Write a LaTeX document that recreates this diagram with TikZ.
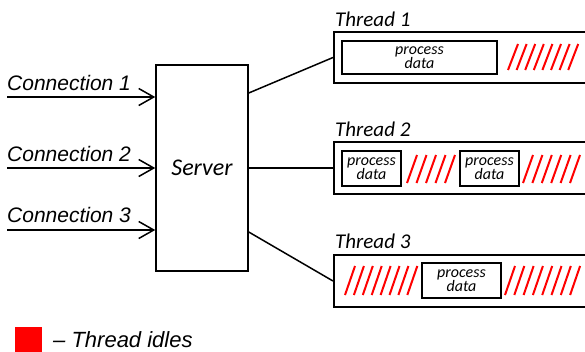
\documentclass[tikz,border=0pt]{standalone}
\usepackage{fontspec}
\setmainfont{Carlito}
\newfontfamily\arialfont{Liberation Sans}
\usetikzlibrary{arrows.meta}
\tikzset{
  boite/.style={draw, line width=1.6pt, inner sep=0pt},
  idle/.style={red, line width=2pt},
  conn/.style={line width=1.5pt, -{Straight Barb[length=15pt,width=17pt,line width=1.5pt]}},
  txtconn/.style={anchor=base west, inner sep=0pt, font=\arialfont\itshape\fontsize{21}{21}\selectfont},
  txtthread/.style={anchor=base west, inner sep=0pt, font=\itshape\fontsize{21}{21}\selectfont},
  tache/.style={boite, align=center, font=\itshape\fontsize{16}{14.5}\selectfont},
}
\begin{document}
\begin{tikzpicture}[x=1pt, y=-1pt]
    \path[use as bounding box, clip] (0,0) rectangle (585,351);
    %serveur
    \node[draw, line width=1.5pt, minimum width=92pt, minimum height=206pt,
      font=\itshape\fontsize{24}{24}\selectfont] (serveur) at (202,168) {Server};
    %connexions
    \node[txtconn] (lc1) at (7,90) {Connection 1};
    \node[txtconn] (lc2) at (7,161) {Connection 2};
    \node[txtconn] (lc3) at (7,222) {Connection 3};
    \coordinate (e1) at (7,97);
    \coordinate (e2) at (7,168);
    \coordinate (e3) at (7,230);
    \draw[conn] (e1) -- (e1 -| serveur.west);
    \draw[conn] (e2) -- (e2 -| serveur.west);
    \draw[conn] (e3) -- (e3 -| serveur.west);
    %threads
    \node[txtthread] (lt1) at (335,26) {Thread 1};
    \node[txtthread] (lt2) at (335,136) {Thread 2};
    \node[txtthread] (lt3) at (335,248) {Thread 3};
    \node[boite, minimum width=270pt, minimum height=51pt, anchor=west] (t1) at (333,57.5) {};
    \node[boite, minimum width=270pt, minimum height=52pt, anchor=west] (t2) at (333,168) {};
    \node[boite, minimum width=270pt, minimum height=52pt, anchor=west] (t3) at (333,281) {};
    \draw[line width=1.5pt] ([yshift=75pt]serveur.east) -- (t1.west);
    \draw[line width=1.5pt] (serveur.east) -- (t2.west);
    \draw[line width=1.5pt] ([yshift=-64pt]serveur.east) -- (t3.west);
    %taches
    \node[tache, minimum width=155pt, minimum height=33pt] (p1) at (419.5,57.5) {process\\data};
    \node[tache, minimum width=59pt, minimum height=35pt] (p2a) at (371.5,168.5) {process\\data};
    \node[tache, minimum width=59pt, minimum height=35pt] (p2b) at (489.5,168.5) {process\\data};
    \node[tache, minimum width=79pt, minimum height=35pt] (p3) at (461.5,280.5) {process\\data};
    %attente
    \foreach \i in {0,...,7}
      \draw[idle] (508+8.6*\i,70) -- ++(10,-26);
    \foreach \i in {0,...,4}
      \draw[idle] (407+9.5*\i,183) -- ++(10,-28);
    \foreach \i in {0,...,5}
      \draw[idle] (523+9.4*\i,183) -- ++(10,-28);
    \foreach \i in {0,...,7}
      \draw[idle] (345+8.9*\i,295) -- ++(10,-29);
    \foreach \i in {0,...,7}
      \draw[idle] (505+9.3*\i,295) -- ++(10,-29);
    %legende
    \fill[red] (15,327) rectangle (42,355);
    \node[txtconn, font=\arialfont\itshape\fontsize{22}{22}\selectfont] (leg) at (53,347) {– Thread idles};
  \end{tikzpicture}
\end{document}
